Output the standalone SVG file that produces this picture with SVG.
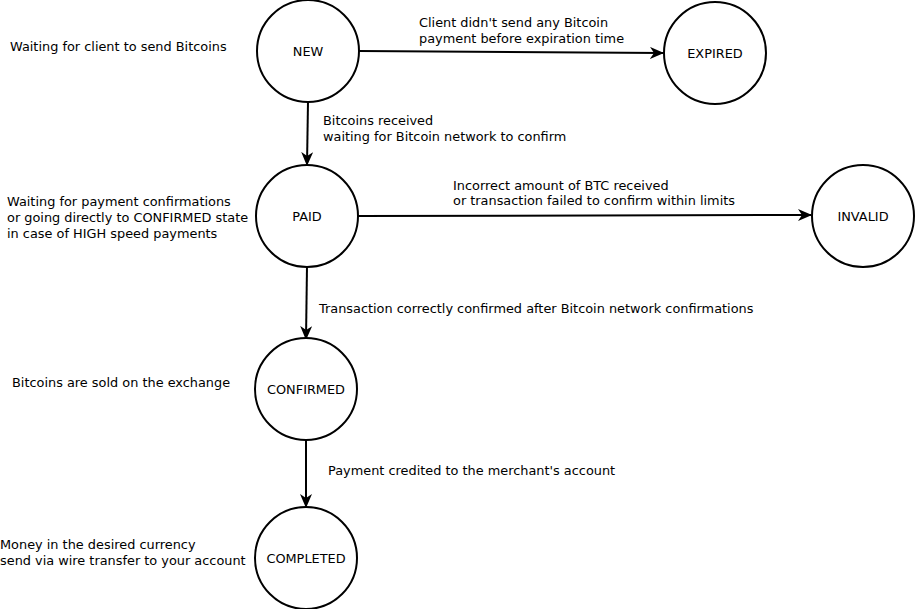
<svg xmlns="http://www.w3.org/2000/svg" width="915" height="609" viewBox="0 0 915 609">
<style>
text{font-family:"DejaVu Sans",sans-serif;font-size:12.88px;fill:#000}
.node circle{fill:#fff;stroke:#000;stroke-width:2}
.node text{text-anchor:middle}
.edge{stroke:#000;stroke-width:2;fill:none;marker-end:url(#arr)}
</style>
<defs>
<marker id="arr" viewBox="0 0 14 12" refX="13" refY="6" markerWidth="14" markerHeight="12" markerUnits="userSpaceOnUse" orient="auto">
<path d="M0,0 L14,6 L0,12 L4,6 Z" fill="#000"/>
</marker>
</defs>
<rect width="915" height="609" fill="#fff"/>
<g id="connectors">
<line class="edge" x1="359" y1="51" x2="663" y2="53"/>
<line class="edge" x1="308" y1="102" x2="307" y2="165"/>
<line class="edge" x1="358" y1="216" x2="811" y2="215"/>
<line class="edge" x1="307" y1="266" x2="306" y2="339"/>
<line class="edge" x1="306" y1="440" x2="306" y2="507"/>
<text x="419" y="27">Client didn't send any Bitcoin</text>
<text x="419" y="43">payment before expiration time</text>
<text x="323" y="125">Bitcoins received</text>
<text x="323" y="141">waiting for Bitcoin network to confirm</text>
<text x="453" y="190">Incorrect amount of BTC received</text>
<text x="453" y="205">or transaction failed to confirm within limits</text>
<text x="319" y="313">Transaction correctly confirmed after Bitcoin network confirmations</text>
<text x="328" y="475">Payment credited to the merchant's account</text>
</g>
<g id="notes">
<text x="10" y="51">Waiting for client to send Bitcoins</text>
<text x="7" y="206">Waiting for payment confirmations</text>
<text x="7" y="222">or going directly to CONFIRMED state</text>
<text x="7" y="238">in case of HIGH speed payments</text>
<text x="12" y="387">Bitcoins are sold on the exchange</text>
<text x="0" y="549">Money in the desired currency</text>
<text x="0" y="565">send via wire transfer to your account</text>
</g>
<g id="node-new" class="node"><circle cx="308" cy="51" r="51"/><text x="308" y="56">NEW</text></g>
<g id="node-expired" class="node"><circle cx="715" cy="53" r="51"/><text x="715" y="58">EXPIRED</text></g>
<g id="node-paid" class="node"><circle cx="307" cy="216" r="51"/><text x="307" y="221">PAID</text></g>
<g id="node-invalid" class="node"><circle cx="863" cy="216" r="51"/><text x="863" y="221">INVALID</text></g>
<g id="node-confirmed" class="node"><circle cx="306" cy="389" r="51"/><text x="306" y="394">CONFIRMED</text></g>
<g id="node-completed" class="node"><circle cx="306" cy="558" r="51"/><text x="306" y="563">COMPLETED</text></g>
</svg>
